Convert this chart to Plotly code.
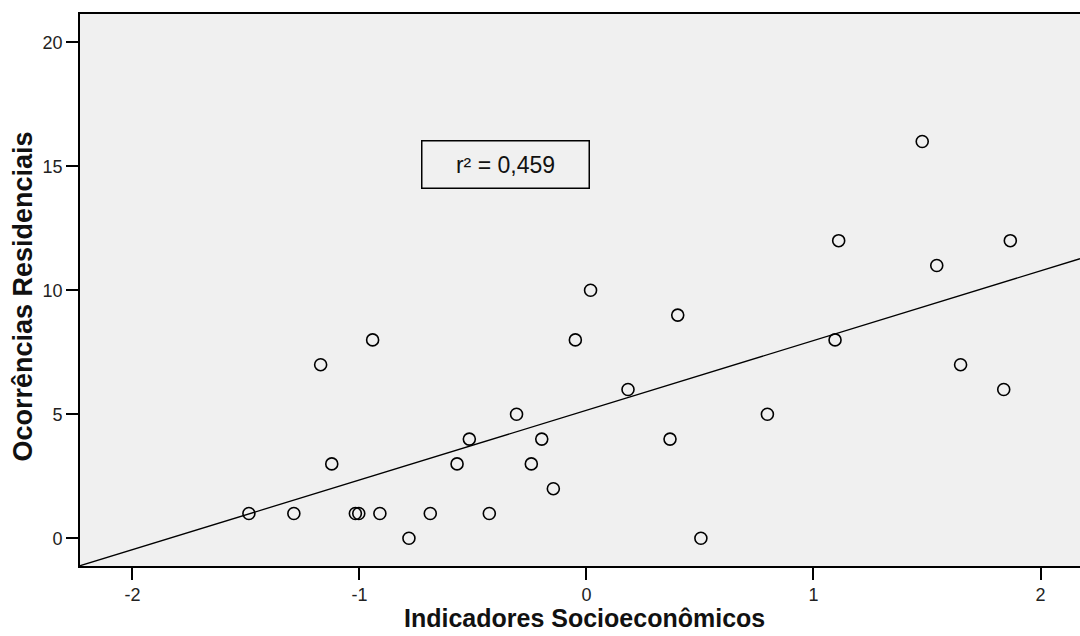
import numpy as np
import plotly.graph_objects as go

# Data (standardized socioeconomic indicator vs. residential occurrences)
indicadores = [-1.487, -1.289, -1.171, -1.122, -1.018, -1.003, -0.942, -0.910, -0.782, -0.688,
               -0.570, -0.516, -0.428, -0.308, -0.243, -0.197, -0.146, -0.049, 0.018, 0.183,
               0.368, 0.402, 0.504, 0.797, 1.095, 1.111, 1.479, 1.543, 1.648, 1.838, 1.867]
ocorrencias = [1, 1, 7, 3, 1, 1, 8, 1, 0, 1,
               3, 4, 1, 5, 3, 4, 2, 8, 10, 6,
               4, 9, 0, 5, 8, 12, 16, 11, 7, 6, 12]

x_range = [-2.231, 2.174]
y_range = [-1.117, 21.14]
x_ticks = [-2, -1, 0, 1, 2]
y_ticks = [0, 5, 10, 15, 20]
r2_label = "r² = 0,459"
x_title = "Indicadores Socioeconômicos"
y_title = "Ocorrências Residenciais"

x = np.array(indicadores, dtype=float)
y = np.array(ocorrencias, dtype=float)
slope, intercept = np.polyfit(x, y, 1)
fit_x = np.array(x_range)
fit_y = intercept + slope * fit_x

fig = go.Figure()
fig.add_trace(go.Scatter(
    x=fit_x, y=fit_y, mode="lines",
    line=dict(color="black", width=1.3),
    hoverinfo="skip", showlegend=False,
))
fig.add_trace(go.Scatter(
    x=indicadores, y=ocorrencias, mode="markers",
    marker=dict(symbol="circle-open", size=12, color="black", line=dict(width=1.6, color="black")),
    showlegend=False,
))

fig.add_annotation(
    x=-0.357, y=15.08, xref="x", yref="y",
    text=r2_label, showarrow=False,
    font=dict(family="Liberation Sans, Arial, sans-serif", size=23, color="#111"),
    bordercolor="black", borderwidth=1.5, borderpad=0,
    width=166, height=46, align="center", valign="middle",
)

title_font_x = dict(family="Liberation Sans, Arial, sans-serif", size=25, color="#111", weight="bold")
title_font_y = dict(family="Liberation Sans, Arial, sans-serif", size=27, color="#111", weight="bold")

fig.add_annotation(
    x=0.504, y=-0.095, xref="paper", yref="paper",
    text=x_title, showarrow=False, font=title_font_x,
    xanchor="center", yanchor="middle",
)
fig.add_annotation(
    x=-0.057, y=0.488, xref="paper", yref="paper",
    text=y_title, showarrow=False, font=title_font_y, textangle=-90,
    xanchor="center", yanchor="middle",
)

axis_font = dict(family="Liberation Sans, Arial, sans-serif", size=18, color="#222")

fig.update_layout(
    width=1080, height=636,
    margin=dict(l=80, r=0, t=14, b=70),
    paper_bgcolor="white",
    plot_bgcolor="#f0f0f0",
    xaxis=dict(
        range=x_range, tickvals=x_ticks, ticktext=[str(v) for v in x_ticks],
        showgrid=False, zeroline=False,
        showline=True, linecolor="black", linewidth=1.6, mirror=True,
        ticks="outside", ticklen=12, tickwidth=1.5, tickcolor="black",
        tickfont=axis_font,
    ),
    yaxis=dict(
        range=y_range, tickvals=y_ticks, ticktext=[str(v) for v in y_ticks],
        showgrid=False, zeroline=False,
        showline=True, linecolor="black", linewidth=1.6, mirror=False,
        ticks="outside", ticklen=12, tickwidth=1.5, tickcolor="black",
        tickfont=axis_font,
    ),
)

fig.write_html(
    "out.html",
    config={"displayModeBar": False},
    post_script="document.body.style.margin='0';document.body.style.overflow='hidden';",
)
